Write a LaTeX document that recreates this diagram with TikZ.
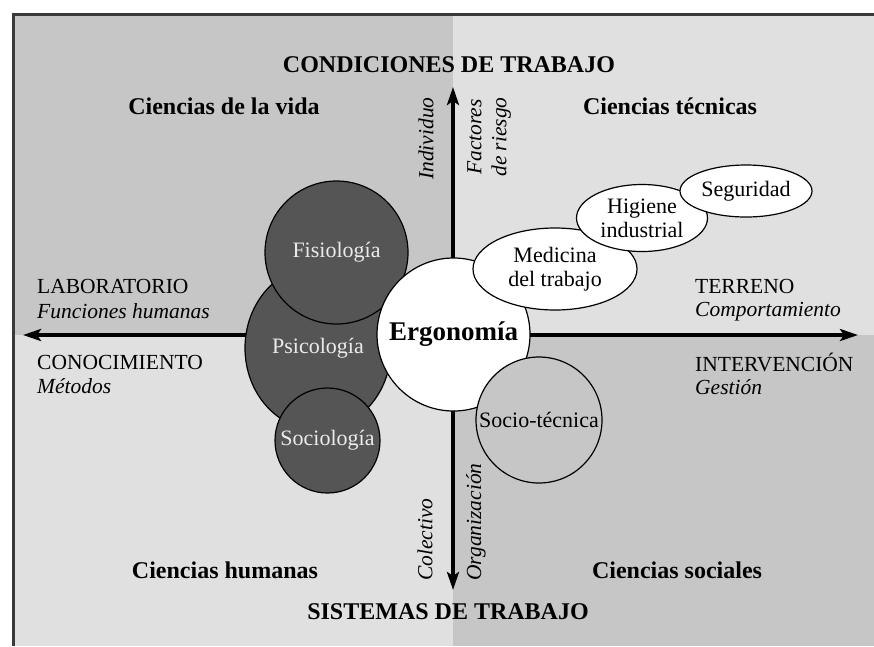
\documentclass[tikz,border=0pt]{standalone}
\usepackage{fontspec}
\setmainfont{Liberation Serif}
\usetikzlibrary{shapes.geometric,arrows.meta}
\definecolor{qdark}{HTML}{C6C6C6}
\definecolor{qlight}{HTML}{E0E0E0}
\definecolor{cdark}{HTML}{555555}
\definecolor{framec}{HTML}{3A3A3A}
\begin{document}
\begin{tikzpicture}[x=1pt,y=-1pt,
  hdr/.style={font=\fontsize{24}{26}\selectfont\bfseries, inner sep=0},
  lbl/.style={font=\fontsize{21.5}{24}\selectfont, anchor=west, inner sep=0},
  ilbl/.style={font=\fontsize{21.5}{24}\selectfont\itshape, anchor=west, inner sep=0},
  rlbl/.style={font=\fontsize{21.5}{25}\selectfont\itshape, rotate=90, inner sep=0},
  axisline/.style={line width=3.5pt, {Stealth[length=18pt,width=12pt,inset=4pt]}-{Stealth[length=18pt,width=12pt,inset=4pt]}},
  darkc/.style={circle, draw=black, line width=1.2pt, fill=cdark, text=white!92!black, font=\fontsize{22}{24}\selectfont, inner sep=0},
  whitee/.style={ellipse, draw=black, line width=1.2pt, fill=white, font=\fontsize{22}{24}\selectfont, inner sep=0, align=center}
]
\useasboundingbox (0,0) rectangle (874,646);
\fill[white] (0,0) rectangle (874,646);
% quadrants
\fill[qdark]  (14,15) rectangle (453,335);
\fill[qlight] (453,15) rectangle (874,335);
\fill[qlight] (14,335) rectangle (453,646);
\fill[qdark]  (453,335) rectangle (874,646);
\draw[framec, line width=3pt] (13,646) -- (13,14) -- (874,14);

% axes
\coordinate (axL) at (23,335);
\coordinate (axR) at (858,335);
\coordinate (axT) at (453,87);
\coordinate (axB) at (453,590);
\draw[axisline] (axL) -- (axR);
\draw[axisline] (axT) -- (axB);

% headings
\node[hdr] (cond) at (449,65) {CONDICIONES DE TRABAJO};
\node[hdr] (sist) at (448,612) {SISTEMAS DE TRABAJO};
\node[hdr] (cvida) at (224,106) {Ciencias de la vida};
\node[hdr] (ctec) at (670,106) {Ciencias técnicas};
\node[hdr] (chum) at (225,570) {Ciencias humanas};
\node[hdr] (csoc) at (677,570) {Ciencias sociales};

% side labels
\node[lbl]  (lab) at (37,286) {LABORATORIO};
\node[ilbl] (fh)  at (37,311) {Funciones humanas};
\node[lbl]  (con) at (37,362) {CONOCIMIENTO};
\node[ilbl] (met) at (37,386) {Métodos};
\node[lbl]  (ter) at (695,286) {TERRENO};
\node[ilbl] (comp) at (695,312) {Comportamiento};
\node[lbl]  (inter) at (695,362) {INTERVENCIÓN};
\node[ilbl] (gest) at (695,387) {Gestión};

% rotated labels
\node[rlbl, anchor=west] (indiv) at (426,180) {Individuo};
\node[rlbl, align=center] (fact) at (489,137) {Factores\\de riesgo};
\node[rlbl, anchor=west] (colec) at (425,581) {Colectivo};
\node[rlbl, anchor=west] (org) at (476,581) {Organización};

% circles
\node[darkc, ellipse, minimum width=146pt, minimum height=164pt] (psic) at (318,348) {Psicología};
\node[darkc, minimum size=143pt] (fisio) at (336.5,252.5) {Fisiología};
\node[darkc, minimum size=105pt] (socio) at (327.5,440.5) {Sociología};
\node[circle, draw=black, line width=1.2pt, fill=white, minimum size=153pt, inner sep=0,
      font=\fontsize{27}{29}\selectfont\bfseries] (ergo) at (453.5,334.5) {Ergonomía};
\node[circle, draw=black, line width=1.2pt, fill=qdark, minimum size=126pt, inner sep=0,
      font=\fontsize{22}{24}\selectfont] (soctec) at (539,420) {Socio-técnica};
\node[whitee, minimum width=164pt, minimum height=82pt] (med) at (555,269) {Medicina\\del trabajo};
\node[whitee, minimum width=131pt, minimum height=67pt] (hig) at (642,218) {Higiene\\industrial};
\node[whitee, minimum width=132pt, minimum height=52pt] (seg) at (746,191) {Seguridad};
\end{tikzpicture}
\end{document}
